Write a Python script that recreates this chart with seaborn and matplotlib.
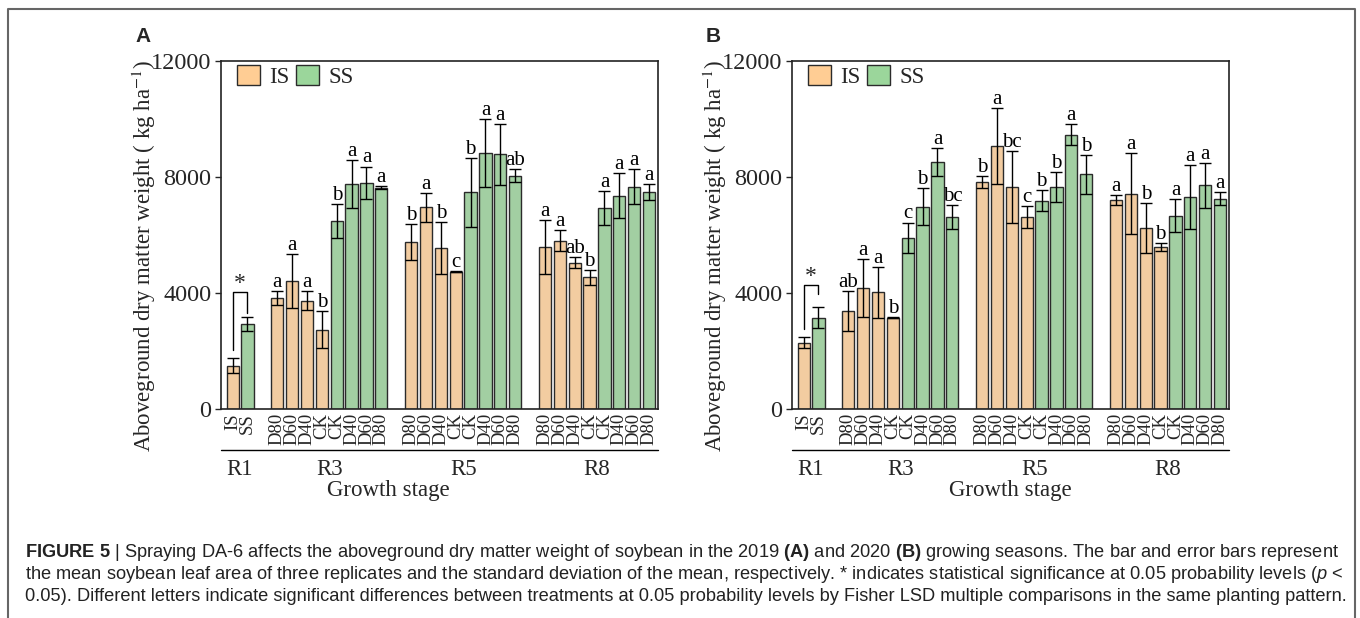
import numpy as np
import pandas as pd
import matplotlib
matplotlib.use("Agg")
import matplotlib.pyplot as plt
import seaborn as sns
from matplotlib.patches import Patch
from matplotlib.lines import Line2D

# ---------------- data ----------------
stages = ["R1", "R3", "R5", "R8"]
r1_labels = ["IS", "SS"]
trt_labels = ["D80", "D60", "D40", "CK", "CK", "D40", "D60", "D80"]
trt_types = ["IS"] * 4 + ["SS"] * 4

# Panel A (2019)
a_r1 = [1500, 2930]
a_r1_err = [270, 230]
a_r3 = [3820, 4420, 3730, 2740, 6480, 7750, 7800, 7630]
a_r3_err = [240, 930, 330, 640, 600, 830, 560, 60]
a_r3_let = ["a", "a", "a", "b", "b", "a", "a", "a"]
a_r5 = [5760, 6960, 5550, 4740, 7480, 8820, 8780, 8040]
a_r5_err = [610, 500, 890, 20, 1190, 1180, 1040, 225]
a_r5_let = ["b", "a", "b", "c", "b", "a", "a", "ab"]
a_r8 = [5580, 5800, 5050, 4540, 6940, 7360, 7660, 7480]
a_r8_err = [930, 360, 190, 265, 590, 765, 600, 265]
a_r8_let = ["a", "a", "ab", "b", "a", "a", "a", "a"]

# Panel B (2020)
b_r1 = [2290, 3150]
b_r1_err = [190, 356]
b_r3 = [3380, 4170, 4020, 3150, 5910, 6970, 8520, 6630]
b_r3_err = [695, 1000, 870, 20, 520, 640, 470, 415]
b_r3_let = ["ab", "a", "a", "b", "c", "b", "a", "bc"]
b_r5 = [7830, 9070, 7660, 6620, 7180, 7660, 9460, 8090]
b_r5_err = [200, 1320, 1230, 375, 360, 520, 370, 680]
b_r5_let = ["b", "a", "bc", "c", "b", "b", "a", "b"]
b_r8 = [7200, 7430, 6250, 5590, 6670, 7310, 7710, 7250]
b_r8_err = [180, 1390, 860, 125, 580, 1115, 770, 220]
b_r8_let = ["a", "a", "b", "b", "a", "a", "a", "a"]

y_ticks = [0, 4000, 8000, 12000]

ORANGE = "#FFCD94"
GREEN = "#9BD69B"
EDGE = "#2b2b2b"

sns.set_theme(style="ticks")
plt.rcParams["font.family"] = ["Liberation Serif", "DejaVu Serif"]
plt.rcParams["mathtext.fontset"] = "custom"
plt.rcParams["mathtext.rm"] = "Liberation Sans"
plt.rcParams["mathtext.bf"] = "Liberation Sans:bold"
plt.rcParams["mathtext.it"] = "Liberation Sans:italic"


def build_df(r1, r1e, groups):
    rows = []
    for i in range(2):
        rows.append(dict(pos=i, value=r1[i], err=r1e[i], type=r1_labels[i],
                         label=r1_labels[i], letter=""))
    start = 3
    for vals, errs, lets in groups:
        for j in range(8):
            rows.append(dict(pos=start + j, value=vals[j], err=errs[j],
                             type=trt_types[j], label=trt_labels[j], letter=lets[j]))
        start += 9
    return pd.DataFrame(rows)


dfA = build_df(a_r1, a_r1_err, [(a_r3, a_r3_err, a_r3_let),
                                (a_r5, a_r5_err, a_r5_let),
                                (a_r8, a_r8_err, a_r8_let)])
dfB = build_df(b_r1, b_r1_err, [(b_r3, b_r3_err, b_r3_let),
                                (b_r5, b_r5_err, b_r5_let),
                                (b_r8, b_r8_err, b_r8_let)])

W, H = 1360, 618
fig = plt.figure(figsize=(13.6, 6.18), dpi=100)


def fx(px):
    return px / W


def fy(py):
    return 1 - py / H


axA = fig.add_axes([fx(221), fy(409), fx(658) - fx(221), fy(61) - fy(409)])
axB = fig.add_axes([fx(792), fy(409), fx(1229) - fx(792), fy(61) - fy(409)])


def draw(ax, df, bracket, star_y, gs_x):
    sns.barplot(data=df, x="pos", y="value", hue="type",
                palette={"IS": ORANGE, "SS": GREEN}, native_scale=True,
                dodge=False, width=0.82, edgecolor=EDGE, linewidth=1.0,
                errorbar=None, legend=False, ax=ax)
    ax.errorbar(df["pos"], df["value"], yerr=df["err"], fmt="none",
                ecolor="black", elinewidth=1.0, capsize=4, capthick=1.0, zorder=5)
    for _, r in df.iterrows():
        if r["letter"]:
            ax.text(r["pos"], r["value"] + r["err"] + 140, r["letter"],
                    ha="center", va="baseline", fontsize=15, color="black")
    # significance bracket R1
    ax.plot([0, 0, 1, 1], bracket, color="black", lw=1.0, zorder=6)
    ax.text(0.5, star_y, "*", ha="center", va="baseline", fontsize=17)

    ax.set_xlim(-0.78, 28.6)
    ax.set_ylim(0, 12000)
    ax.set_yticks(y_ticks)
    ax.set_yticklabels([str(t) for t in y_ticks], fontsize=17.5)
    ax.set_xticks(df["pos"])
    ax.set_xticklabels(df["label"], rotation=90, fontsize=13.5)
    ax.tick_params(axis="x", length=0, pad=3)
    ax.tick_params(axis="y", length=4, width=1, direction="out", pad=3)
    ax.set_xlabel("")
    ax.set_ylabel("Aboveground dry matter weight ( kg ha$^{-1}$)", fontsize=16.5,
                  math_fontfamily="stix")
    ax.yaxis.set_label_coords(-0.145, 0.44)
    for s in ax.spines.values():
        s.set_visible(True)
        s.set_linewidth(1.2)
        s.set_color("#222222")

    # separator line and stage labels
    ax.plot([0, 1], [-0.118, -0.118], transform=ax.transAxes, color="black",
            lw=1.0, clip_on=False)
    centers = [0.5, 6.5, 15.5, 24.5]
    for c, s in zip(centers, stages):
        ax.text(c, -0.175, s, transform=ax.get_xaxis_transform(), ha="center",
                va="center", fontsize=16.5)
    ax.text(gs_x, -0.233, "Growth stage", transform=ax.transAxes, ha="center",
            va="center", fontsize=16.5)

    handles = [Patch(facecolor=ORANGE, edgecolor=EDGE, lw=1.0, label="IS"),
               Patch(facecolor=GREEN, edgecolor=EDGE, lw=1.0, label="SS")]
    ax.legend(handles=handles, loc="upper left", ncol=2, frameon=False,
              fontsize=16.5, handlelength=1.0, handleheight=1.0,
              handletextpad=0.4, columnspacing=0.3, borderaxespad=0.3,
              bbox_to_anchor=(0.0, 1.035))


draw(axA, dfA, [2050, 4030, 4030, 3310], 4150, (388 - 221) / (658 - 221))
draw(axB, dfB, [2770, 4260, 4260, 3980], 4380, 0.5)

fig.text(fx(143), fy(36), "A", fontsize=15, fontweight="bold",
         family="Liberation Sans", ha="center", va="center")
fig.text(fx(713), fy(36), "B", fontsize=15, fontweight="bold",
         family="Liberation Sans", ha="center", va="center")

# border (left, top, right)
fig.add_artist(Line2D([fx(8), fx(8), fx(1355), fx(1355)],
                      [0, fy(9), fy(9), 0], color="#666666", lw=1.5,
                      transform=fig.transFigure))

cap1 = (r"$\mathbf{FIGURE\ 5}$ | Spraying DA-6 affects the aboveground dry matter weight "
        r"of soybean in the 2019 $\mathbf{(A)}$ and 2020 $\mathbf{(B)}$ growing seasons. "
        r"The bar and error bars represent")
cap2 = (r"the mean soybean leaf area of three replicates and the standard deviation of the "
        r"mean, respectively. * indicates statistical significance at 0.05 probability "
        r"levels ($\mathit{p}$ <")
cap3 = ("0.05). Different letters indicate significant differences between treatments at "
        "0.05 probability levels by Fisher LSD multiple comparisons in the same planting pattern.")
for txt, yb in zip([cap1, cap2, cap3], [557, 579, 601]):
    fig.text(fx(25), fy(yb), txt, fontsize=13.15, family="Liberation Sans",
             ha="left", va="baseline", color="#222222")

fig.savefig("out.png", dpi=100)
